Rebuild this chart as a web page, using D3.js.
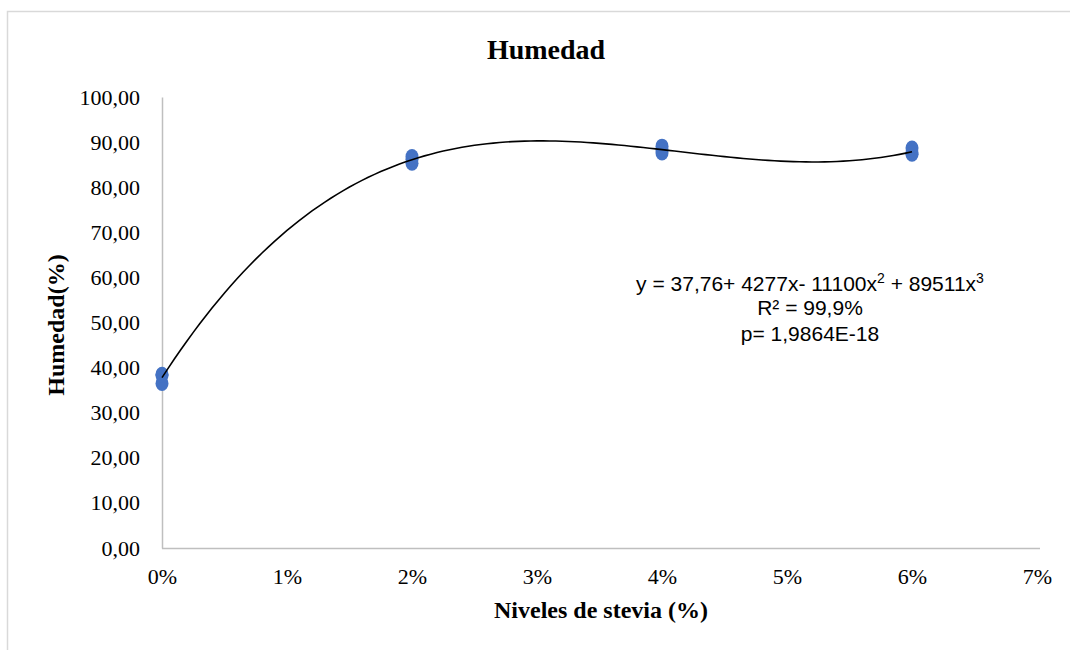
<!DOCTYPE html>
<html>
<head>
<meta charset="utf-8">
<script src="https://cdn.jsdelivr.net/npm/d3@7"></script>
<style>
  html, body { margin: 0; padding: 0; background: #fff; }
  svg { display: block; }
</style>
</head>
<body>
<svg id="chart" width="1070" height="650"></svg>
<script>
// Stevia levels (fraction) and moisture replicates (%)
const nivelesStevia = [0, 0.02, 0.04, 0.06];
const humedadRep1 = [38.5, 86.8, 89.1, 88.7];
const humedadRep2 = [36.5, 85.3, 87.6, 87.3];
const humedadRep3 = [38.3, 86.2, 88.3, 87.6];

const xTicks = [0, 0.01, 0.02, 0.03, 0.04, 0.05, 0.06, 0.07];
const yTicks = [0, 10, 20, 30, 40, 50, 60, 70, 80, 90, 100];

const titulo = "Humedad";
const tituloX = "Niveles de stevia (%)";
const tituloY = "Humedad(%)";
const ecuacion = ["y = 37,76+ 4277x- 11100x", "2", " + 89511x", "3"];
const r2Texto = "R² = 99,9%";
const pTexto = "p= 1,9864E-18";

const svg = d3.select("#chart");
const W = 1070, H = 650;

// outer chart border
svg.append("rect")
  .attr("x", 7.5).attr("y", 11.5)
  .attr("width", W + 20).attr("height", H + 20)
  .attr("fill", "none").attr("stroke", "#d9d9d9").attr("stroke-width", 1.5);

const x = d3.scaleLinear().domain([0, 0.07]).range([162, 1037]);
const y = d3.scaleLinear().domain([0, 100]).range([548, 97]);

const fmtY = v => d3.format(".2f")(v).replace(".", ",");
const fmtX = d3.format(".0%");

// axes (no tick marks)
const xAxis = svg.append("g").attr("transform", `translate(0,${y(0)})`)
  .call(d3.axisBottom(x).tickValues(xTicks).tickFormat(fmtX).tickSize(0).tickPadding(20));
const yAxis = svg.append("g").attr("transform", `translate(${x(0)},0)`)
  .call(d3.axisLeft(y).tickValues(yTicks).tickFormat(fmtY).tickSize(0).tickPadding(22));

[xAxis, yAxis].forEach(g => {
  g.select(".domain").attr("stroke", "#bfbfbf").attr("stroke-width", 1.5);
  g.selectAll("text")
    .attr("font-family", "'Liberation Serif', 'Times New Roman', serif")
    .attr("font-size", 22).attr("fill", "#000");
});
xAxis.select(".domain").attr("d", `M${x(0)},0.5H1040`);

// data points
const puntos = [];
[humedadRep1, humedadRep2, humedadRep3].forEach(rep =>
  rep.forEach((v, i) => puntos.push({ x: nivelesStevia[i], y: v })));

// cubic least-squares fit computed from the points
function polyfit(pts, deg) {
  const n = deg + 1;
  const A = Array.from({ length: n }, () => new Array(n + 1).fill(0));
  pts.forEach(p => {
    const t = p.x * 100;
    for (let r = 0; r < n; r++) {
      for (let c = 0; c < n; c++) A[r][c] += Math.pow(t, r + c);
      A[r][n] += p.y * Math.pow(t, r);
    }
  });
  for (let i = 0; i < n; i++) {
    let m = i;
    for (let k = i + 1; k < n; k++) if (Math.abs(A[k][i]) > Math.abs(A[m][i])) m = k;
    [A[i], A[m]] = [A[m], A[i]];
    for (let k = 0; k < n; k++) {
      if (k === i) continue;
      const f = A[k][i] / A[i][i];
      for (let c = i; c <= n; c++) A[k][c] -= f * A[i][c];
    }
  }
  return A.map((row, i) => row[n] / row[i]);
}
const coef = polyfit(puntos, 3);
const evalFit = xv => coef.reduce((s, c, k) => s + c * Math.pow(xv * 100, k), 0);
const xs = d3.range(0, 0.0600001, 0.0005);

svg.append("g").selectAll("ellipse")
  .data(puntos).join("ellipse")
  .attr("cx", d => x(d.x)).attr("cy", d => y(d.y))
  .attr("rx", 6.5).attr("ry", 7.5)
  .attr("fill", "#4472c4");

// trend line on top of the markers
svg.append("path")
  .datum(xs)
  .attr("fill", "none").attr("stroke", "#000").attr("stroke-width", 1.6)
  .attr("d", d3.line().x(d => x(d)).y(d => y(evalFit(d))));

// titles
svg.append("text")
  .attr("x", 546).attr("y", 59).attr("text-anchor", "middle")
  .attr("font-family", "'Liberation Serif', 'Times New Roman', serif")
  .attr("font-weight", "bold").attr("font-size", 28).text(titulo);

svg.append("text")
  .attr("x", 601).attr("y", 618).attr("text-anchor", "middle")
  .attr("font-family", "'Liberation Serif', 'Times New Roman', serif")
  .attr("font-weight", "bold").attr("font-size", 24).text(tituloX);

svg.append("text")
  .attr("transform", "translate(64,325) rotate(-90)").attr("text-anchor", "middle")
  .attr("font-family", "'Liberation Serif', 'Times New Roman', serif")
  .attr("font-weight", "bold").attr("font-size", 24).text(tituloY);

// regression annotation
const ann = svg.append("g")
  .attr("font-family", "'Liberation Sans', Arial, sans-serif")
  .attr("font-size", 21).attr("fill", "#000");
const eq = ann.append("text").attr("x", 810).attr("y", 291).attr("text-anchor", "middle");
ecuacion.forEach((s, i) => {
  const ts = eq.append("tspan").text(s);
  if (i % 2 === 1) ts.attr("font-size", 14).attr("dy", -8);
  else if (i > 0) ts.attr("dy", 8);
});
ann.append("text").attr("x", 810).attr("y", 315).attr("text-anchor", "middle").text(r2Texto);
ann.append("text").attr("x", 810).attr("y", 341).attr("text-anchor", "middle").text(pTexto);
</script>
</body>
</html>
